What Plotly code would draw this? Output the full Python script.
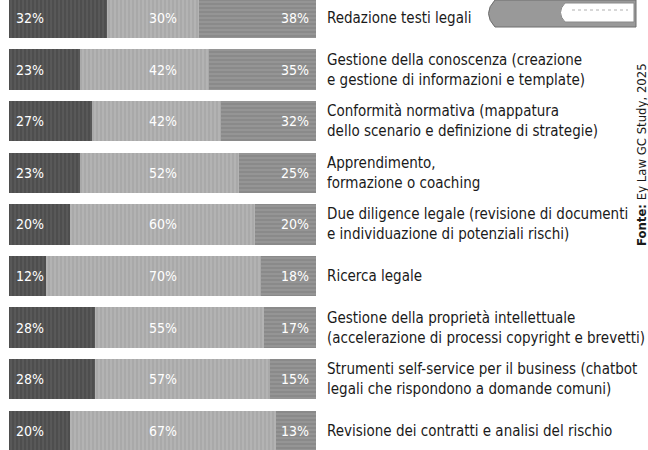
import plotly.graph_objects as go

categories = [
    "Redazione testi legali",
    "Gestione della conoscenza (creazione<br>e gestione di informazioni e template)",
    "Conformità normativa (mappatura<br>dello scenario e definizione di strategie)",
    "Apprendimento,<br>formazione o coaching",
    "Due diligence legale (revisione di documenti<br>e individuazione di potenziali rischi)",
    "Ricerca legale",
    "Gestione della proprietà intellettuale<br>(accelerazione di processi copyright e brevetti)",
    "Strumenti self-service per il business (chatbot<br>legali che rispondono a domande comuni)",
    "Revisione dei contratti e analisi del rischio",
]
serie1 = [32, 23, 27, 23, 20, 12, 28, 28, 20]
serie2 = [30, 42, 42, 52, 60, 70, 55, 57, 67]
serie3 = [38, 35, 32, 25, 20, 18, 17, 15, 13]
source_text = "<b>Fonte:</b> Ey Law GC Study, 2025"

FONT = "DejaVu Sans Condensed, sans-serif"
W, H = 648, 450
rows = list(range(len(categories)))

fig = go.Figure()
styles = [
    dict(bg="#4e4e4e", fg="#6c6c6c", shape="|"),
    dict(bg="#a9a9a9", fg="#c6c6c6", shape="|"),
    dict(bg="#8a8a8a", fg="#a8a8a8", shape="-"),
]
for vals, st in zip([serie1, serie2, serie3], styles):
    fig.add_trace(go.Bar(
        x=vals, y=rows, orientation="h", width=0.78,
        marker=dict(color=st["bg"], line=dict(width=0),
                    pattern=dict(shape=st["shape"], fgcolor=st["fg"], bgcolor=st["bg"],
                                 size=4, solidity=0.35, fillmode="overlay")),
        showlegend=False, hoverinfo="skip",
    ))

ann = []
for i in rows:
    ann.append(dict(x=1.5, y=i, xref="x", yref="y", text=f"{serie1[i]}%", showarrow=False,
                    xanchor="left", font=dict(color="white", size=14, family=FONT)))
    ann.append(dict(x=50, y=i, xref="x", yref="y", text=f"{serie2[i]}%", showarrow=False,
                    xanchor="center", font=dict(color="white", size=14, family=FONT)))
    ann.append(dict(x=98.5, y=i, xref="x", yref="y", text=f"{serie3[i]}%", showarrow=False,
                    xanchor="right", font=dict(color="white", size=14, family=FONT)))
    ann.append(dict(x=325 / W, y=i, xref="paper", yref="y", text=categories[i], showarrow=False,
                    xanchor="left", align="left",
                    font=dict(color="#1a1a1a", size=15, family=FONT)))

ann.append(dict(x=641 / W, y=1 - 155 / H, xref="paper", yref="paper", text=source_text,
                showarrow=False, textangle=-90, xanchor="center", yanchor="middle",
                font=dict(color="#1a1a1a", size=13, family=FONT)))

def px(x):
    return x / W

def py(y):
    return 1 - y / H

shapes = [
    dict(type="path", xref="paper", yref="paper",
         path=(f"M {px(495)},{py(0)} L {px(636)},{py(0)} L {px(636)},{py(27)} "
               f"L {px(495)},{py(27)} Q {px(482)},{py(13.5)} {px(495)},{py(0)} Z"),
         fillcolor="#999999", line=dict(color="#6e6e6e", width=1)),
    dict(type="path", xref="paper", yref="paper",
         path=(f"M {px(565)},{py(3)} L {px(634)},{py(3)} L {px(634)},{py(22)} "
               f"L {px(565)},{py(22)} Q {px(556)},{py(12.5)} {px(565)},{py(3)} Z"),
         fillcolor="white", line=dict(color="#8a8a8a", width=1)),
    dict(type="line", xref="paper", yref="paper", x0=px(572), x1=px(628), y0=py(10), y1=py(10),
         line=dict(color="#b0b0b0", width=1, dash="dot")),
]

fig.update_layout(
    width=W, height=H, barmode="stack",
    margin=dict(l=0, r=0, t=0, b=0),
    paper_bgcolor="white", plot_bgcolor="white",
    xaxis=dict(domain=[9 / W, 316 / W], range=[0, 100], visible=False, fixedrange=True),
    yaxis=dict(range=[8.372, -0.349], visible=False, fixedrange=True),
    annotations=ann, shapes=shapes, bargap=0,
)

fig.write_html("out.html", config={"displayModeBar": False},
               post_script="document.body.style.margin='0';")
